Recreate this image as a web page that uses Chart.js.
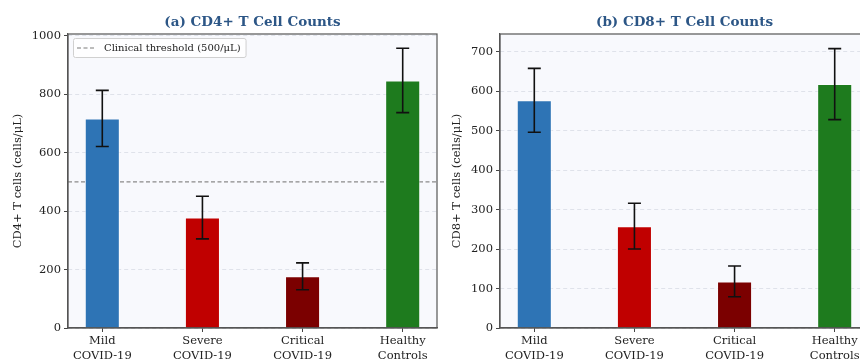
<!DOCTYPE html>
<html>
<head>
<meta charset="utf-8">
<script src="https://cdn.jsdelivr.net/npm/chart.js@4/dist/chart.umd.min.js"></script>
<style>
  html, body { margin: 0; padding: 0; background: #ffffff; overflow: hidden; width: 860px; height: 362px; }
  .panel { position: absolute; top: 0; height: 362px; }
  #p1 { left: 0; width: 440px; }
  #p2 { left: 440px; width: 432px; }
</style>
</head>
<body>
<div class="panel" id="p1"><canvas id="c1"></canvas></div>
<div class="panel" id="p2"><canvas id="c2"></canvas></div>
<script>
// ---- data ----
const categories = [['Mild', 'COVID-19'], ['Severe', 'COVID-19'], ['Critical', 'COVID-19'], ['Healthy', 'Controls']];
const barColors = ['#2E74B5', '#C00000', '#7B0000', '#1E7B1E'];
const cd4Means = [717, 378, 177, 847];
const cd4Errors = [96, 73, 46, 110];
const cd8Means = [577, 258, 118, 618];
const cd8Errors = [81, 58, 39, 90];
const cd4Ticks = [0, 200, 400, 600, 800, 1000];
const cd8Ticks = [0, 100, 200, 300, 400, 500, 600, 700];
const cd4Threshold = 500;

const SERIF = '"DejaVu Serif", serif';

const frameAndBg = {
  id: 'frameAndBg',
  beforeDraw(chart) {
    const {ctx, chartArea: a} = chart;
    ctx.save();
    ctx.fillStyle = '#F8F9FD';
    ctx.fillRect(a.left, a.top, a.right - a.left, a.bottom - a.top);
    ctx.restore();
  },
  afterDraw(chart) {
    const {ctx, chartArea: a} = chart;
    ctx.save();
    ctx.strokeStyle = '#555555';
    ctx.lineWidth = 1.2;
    ctx.strokeRect(a.left, a.top, a.right - a.left, a.bottom - a.top);
    ctx.restore();
  }
};

const errorBars = {
  id: 'errorBars',
  afterDatasetsDraw(chart, args, opts) {
    const {ctx} = chart;
    const ys = chart.scales.y;
    const meta = chart.getDatasetMeta(0);
    const means = opts.means, errs = opts.errors;
    ctx.save();
    ctx.strokeStyle = '#111111';
    ctx.lineWidth = 1.6;
    meta.data.forEach((bar, i) => {
      const x = bar.x;
      const yTop = ys.getPixelForValue(means[i] + errs[i]);
      const yBot = ys.getPixelForValue(means[i] - errs[i]);
      ctx.beginPath();
      ctx.moveTo(x, yTop); ctx.lineTo(x, yBot);
      ctx.moveTo(x - 6.5, yTop); ctx.lineTo(x + 6.5, yTop);
      ctx.moveTo(x - 6.5, yBot); ctx.lineTo(x + 6.5, yBot);
      ctx.stroke();
    });
    ctx.restore();
  }
};

const thresholdLine = {
  id: 'thresholdLine',
  beforeDatasetsDraw(chart, args, opts) {
    if (opts.value == null) return;
    const {ctx, chartArea: a} = chart;
    const y = chart.scales.y.getPixelForValue(opts.value);
    ctx.save();
    ctx.strokeStyle = '#8a8a8a';
    ctx.lineWidth = 1.2;
    ctx.setLineDash([4, 2.5]);
    ctx.beginPath();
    ctx.moveTo(a.left, y); ctx.lineTo(a.right, y);
    ctx.stroke();
    ctx.restore();
  },
  afterDraw(chart, args, opts) {
    if (!opts.label) return;
    const {ctx, chartArea: a} = chart;
    ctx.save();
    ctx.font = '10px ' + SERIF;
    const tw = ctx.measureText(opts.label).width;
    const bx = a.left + 5, by = a.top + 4, bh = 19;
    const bw = tw + 36;
    ctx.fillStyle = 'rgba(255,255,255,0.85)';
    ctx.strokeStyle = '#d0d0d0';
    ctx.lineWidth = 1;
    ctx.beginPath();
    ctx.roundRect(bx + 0.5, by + 0.5, bw, bh, 2);
    ctx.fill(); ctx.stroke();
    ctx.strokeStyle = '#7a7a7a';
    ctx.lineWidth = 1.2;
    ctx.setLineDash([4, 2.5]);
    ctx.beginPath();
    ctx.moveTo(bx + 4, by + bh / 2 + 0.5); ctx.lineTo(bx + 23, by + bh / 2 + 0.5);
    ctx.stroke();
    ctx.setLineDash([]);
    ctx.fillStyle = '#222222';
    ctx.textBaseline = 'middle';
    ctx.fillText(opts.label, bx + 31, by + bh / 2 + 1);
    ctx.restore();
  }
};

function makeChart(id, title, yTitle, means, errors, yTicks, yMax, yAxisWidth, yTitlePad, padRight, threshold) {
  const xMin = -0.3425, xMax = categories.length - 1 + 0.3425;
  return new Chart(document.getElementById(id), {
    type: 'bar',
    data: {
      datasets: [{
        data: means.map((v, i) => ({x: i, y: v})),
        backgroundColor: barColors,
        borderColor: 'rgba(255,255,255,0.55)',
        borderWidth: 1,
        barPercentage: 0.35,
        categoryPercentage: 1.0
      }]
    },
    options: {
      responsive: true,
      maintainAspectRatio: false,
      animation: false,
      layout: { padding: { left: 0, right: padRight, top: 0, bottom: 0 } },
      plugins: {
        legend: { display: false },
        tooltip: { enabled: false },
        title: {
          display: true,
          text: title,
          color: '#2C5686',
          font: { family: SERIF, size: 13.5, weight: 'bold', lineHeight: 1.2 },
          padding: { top: 14, bottom: 3.8 },
          fullSize: false
        },
        errorBars: { means: means, errors: errors },
        thresholdLine: threshold ? { value: threshold, label: 'Clinical threshold (500/μL)' } : { value: null }
      },
      scales: {
        x: {
          type: 'linear',
          min: xMin,
          max: xMax,
          offset: false,
          afterBuildTicks: (s) => { s.ticks = categories.map((_, i) => ({value: i})); },
          afterFit: (s) => { s.height = 34; },
          ticks: {
            callback: (v) => categories[v],
            font: { family: SERIF, size: 11.5, lineHeight: 1.22 },
            color: '#222222',
            padding: 2.5,
            maxRotation: 0,
            autoSkip: false
          },
          grid: { drawOnChartArea: false, offset: false, tickLength: 4, tickColor: '#444444', tickWidth: 1 },
          border: { color: '#555555', width: 1.2 }
        },
        y: {
          min: 0,
          max: yMax,
          afterBuildTicks: (s) => { s.ticks = yTicks.map(v => ({value: v})); },
          afterFit: (s) => { s.width = yAxisWidth; },
          ticks: {
            callback: (v) => String(v),
            font: { family: SERIF, size: 11.5 },
            color: '#222222',
            padding: 3
          },
          grid: {
            color: 'rgba(190,195,210,0.55)',
            lineWidth: 0.8,
            tickLength: 4,
            tickColor: '#444444',
            tickWidth: 1,
            tickBorderDash: []
          },
          border: { color: '#555555', width: 1.2, dash: [4, 3] },
          title: {
            display: true,
            text: yTitle,
            color: '#222222',
            font: { family: SERIF, size: 11.5, lineHeight: 1.2 },
            padding: { top: yTitlePad, bottom: 0 }
          }
        }
      }
    },
    plugins: [frameAndBg, thresholdLine, errorBars]
  });
}

makeChart('c1', '(a) CD4+ T Cell Counts', 'CD4+ T cells (cells/μL)', cd4Means, cd4Errors, cd4Ticks, 1006, 68, 11.1, 3, cd4Threshold);
makeChart('c2', '(b) CD8+ T Cell Counts', 'CD8+ T cells (cells/μL)', cd8Means, cd8Errors, cd8Ticks, 745, 60, 10.1, 3, null);
</script>
</body>
</html>
